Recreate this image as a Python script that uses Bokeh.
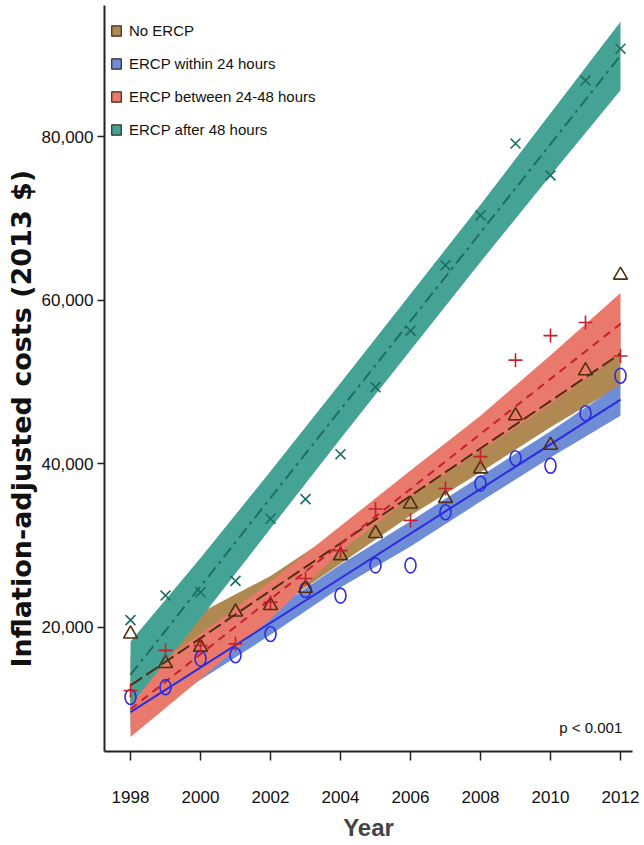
from bokeh.plotting import figure
from bokeh.models import Range1d, Legend, LegendItem, Label, FixedTicker, NumeralTickFormatter, Title
from bokeh.embed import file_html
from bokeh.resources import INLINE

# ---------------- data ----------------
years = [1998, 1999, 2000, 2001, 2002, 2003, 2004, 2005, 2006, 2007, 2008, 2009, 2010, 2011, 2012]

no_ercp = [19200, 15600, 17600, 21900, 22700, 24800, 28800, 31500, 35100, 35800, 39400, 45900, 42300, 51400, 63100]
within_24 = [11500, 12700, 16200, 16600, 19200, 24600, 23900, 27600, 27600, 34100, 37600, 40700, 39800, 46200, 50800]
between_24_48 = [12300, 17200, 17800, 18000, 23100, 26000, 29400, 34500, 33100, 37000, 40900, 52700, 55700, 57300, 53200]
after_48 = [20900, 23900, 24300, 25700, 33300, 35700, 41200, 49400, 56300, 64300, 70400, 79200, 75300, 86900, 90800]

# fitted trend lines (end points)
fit_years = [1998, 2012]
fit_no_ercp = [12900, 53500]
fit_within_24 = [9640, 47860]
fit_between = [10000, 57140]
fit_after_48 = [14200, 89950]

# confidence bands
band_years = [1998, 2000, 2002, 2004, 2006, 2008, 2010, 2012]
no_ercp_lo = [9300, 15600, 22000, 27800, 33700, 39000, 44500, 49600]
no_ercp_hi = [16500, 21800, 26300, 32000, 37600, 43400, 50200, 57400]
within_24_lo = [7700, 13600, 19100, 24900, 29900, 35400, 40800, 45900]
within_24_hi = [11600, 16600, 21900, 27700, 33000, 38500, 44000, 49800]
between_lo = [6600, 13700, 21000, 29300, 35900, 41600, 47300, 53400]
between_hi = [13400, 19200, 25600, 32400, 39200, 45900, 53300, 60900]
after_48_lo = [10500, 21100, 32100, 43100, 53900, 64700, 75300, 85700]
after_48_hi = [18300, 28500, 39100, 49900, 60800, 71700, 82900, 94100]

series_names = ["No ERCP", "ERCP within 24 hours", "ERCP between 24-48 hours", "ERCP after 48 hours"]
x_ticks = [1998, 2000, 2002, 2004, 2006, 2008, 2010, 2012]
y_ticks = [20000, 40000, 60000, 80000]

# ---------------- styling ----------------
NARROW = "Liberation Sans"
C_BROWN_BAND, C_BROWN_LINE = "#b08852", "#4e2e10"
C_BLUE_BAND, C_BLUE_LINE = "#6f8dd6", "#2b2be0"
C_RED_BAND, C_RED_LINE = "#e9796a", "#c4202e"
C_TEAL_BAND, C_TEAL_LINE = "#44a395", "#1d6e62"

p = figure(width=644, height=845, output_backend="svg", toolbar_location=None,
           x_range=Range1d(1997.257, 2012.343), y_range=Range1d(4830, 96080),
           min_border_left=104, min_border_right=12, min_border_top=5, min_border_bottom=94)
p.outline_line_color = None
p.xgrid.visible = False
p.ygrid.visible = False
p.background_fill_color = "white"
p.border_fill_color = "white"

# bands (drawing order matters for overlaps)
p.varea(x=band_years, y1=no_ercp_lo, y2=no_ercp_hi, fill_color=C_BROWN_BAND)
p.varea(x=band_years, y1=within_24_lo, y2=within_24_hi, fill_color=C_BLUE_BAND)
p.varea(x=band_years, y1=between_lo, y2=between_hi, fill_color=C_RED_BAND)
p.varea(x=band_years, y1=after_48_lo, y2=after_48_hi, fill_color=C_TEAL_BAND)

# fitted lines
p.line(fit_years, fit_within_24, line_color=C_BLUE_LINE, line_width=2)
p.line(fit_years, fit_no_ercp, line_color=C_BROWN_LINE, line_width=2, line_dash="14 5")
p.line(fit_years, fit_between, line_color=C_RED_LINE, line_width=2, line_dash="8 6")
p.line(fit_years, fit_after_48, line_color=C_TEAL_LINE, line_width=2, line_dash="12 5 3 5")

# observed points
p.ellipse(x=years, y=within_24, width=11, height=15, width_units="screen", height_units="screen",
          fill_color=None, line_color=C_BLUE_LINE, line_width=1.6)
p.scatter(years, no_ercp, marker="triangle", size=14, fill_color=None, line_color=C_BROWN_LINE, line_width=1.6)
p.scatter(years, between_24_48, marker="cross", size=14, line_color=C_RED_LINE, line_width=1.6)
p.scatter(years, after_48, marker="x", size=14, line_color=C_TEAL_LINE, line_width=1.6)

# legend with outlined swatches (hidden swatch renderers, shown only in the legend)
items = []
swatch_src = [(no_ercp_lo, no_ercp_hi), (within_24_lo, within_24_hi),
              (between_lo, between_hi), (after_48_lo, after_48_hi)]
for name, fc, (lo, hi) in zip(series_names, [C_BROWN_BAND, C_BLUE_BAND, C_RED_BAND, C_TEAL_BAND], swatch_src):
    r = p.quad(left=band_years[:1], right=band_years[1:2], bottom=lo[:1], top=hi[:1],
               fill_color=fc, line_color="#3a2a1a", line_width=1.2, visible=False)
    items.append(LegendItem(label=name, renderers=[r]))
legend = Legend(items=items, location=(6, 612), margin=0, padding=0, spacing=13,
                glyph_width=12, glyph_height=13, label_height=20, label_standoff=7,
                label_text_font=NARROW, label_text_font_size="15px", label_text_color="#111111",
                border_line_color=None, background_fill_alpha=0, click_policy="none")
p.add_layout(legend)

p.add_layout(Label(x=2012.05, y=7770, text="p < 0.001", text_align="right", text_baseline="middle",
                   text_font=NARROW, text_font_size="15px", text_color="#111111"))

# y-axis title (a left-side title so it can sit slightly below centre, as in the reference)
p.add_layout(Title(text="Inflation-adjusted costs (2013 $)", align="left", offset=84,
                   text_font="DejaVu Sans", text_font_style="bold", text_font_size="27px",
                   text_color="#111111", standoff=4), "left")

# axes
for ax in (p.xaxis[0], p.yaxis[0]):
    ax.axis_line_color = "#222222"
    ax.axis_line_width = 2
    ax.major_tick_line_color = "#222222"
    ax.major_tick_line_width = 1.5
    ax.minor_tick_line_color = None
    ax.major_tick_in = 0
    ax.major_label_text_font = NARROW
    ax.major_label_text_font_size = "17px"
    ax.major_label_text_color = "#111111"

p.xaxis.ticker = FixedTicker(ticks=x_ticks)
p.xaxis.major_tick_out = 9
p.xaxis.major_label_standoff = 30
p.xaxis.axis_label = "Year"
p.xaxis.axis_label_text_font = NARROW
p.xaxis.axis_label_text_font_style = "bold"
p.xaxis.axis_label_text_font_size = "24px"
p.xaxis.axis_label_standoff = 8

p.yaxis.ticker = FixedTicker(ticks=y_ticks)
p.yaxis.formatter = NumeralTickFormatter(format="0,0")
p.yaxis.major_tick_out = 7
p.yaxis.major_label_standoff = 4

open("out.html", "w").write(file_html(p, INLINE))
